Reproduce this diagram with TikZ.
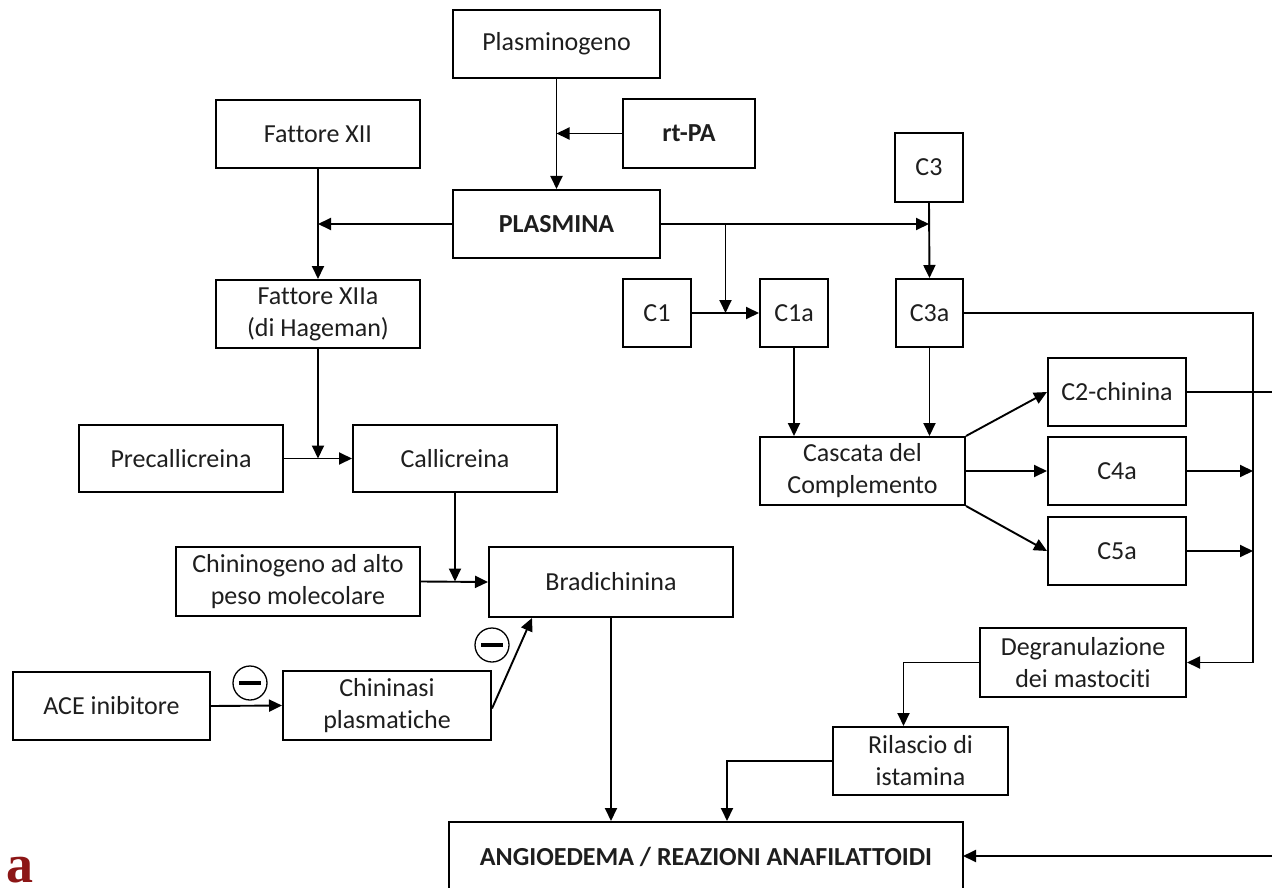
\documentclass[tikz,border=0pt]{standalone}
\usepackage{fontspec}
\setmainfont{Carlito}[Ligatures=NoCommon]
\newfontfamily\fragfont{Liberation Serif}
\usetikzlibrary{arrows.meta,calc}

\definecolor{inkgray}{RGB}{30,30,30}
\definecolor{fragred}{RGB}{140,22,22}

% box given by its left, top, right and bottom edges (in px, y downwards)
\newcommand\pbox[7][]{%
  \node[bx,#1,minimum width={#5-#3},minimum height={#6-#4}] (#2)
    at ({(#3+#5)/2},{(#4+#6)/2}) {#7};}

\begin{document}
\begin{tikzpicture}[x=1pt,y=-1pt,
  bx/.style={draw=black,line width=2pt,inner sep=0pt,align=center,
    text=inkgray,font=\fontsize{26}{32}\selectfont},
  heavy/.style={font=\bfseries\fontsize{26}{32}\selectfont},
  link/.style={draw=black,line width=1.9pt},
  arr/.style={link,-{Triangle[length=13pt,width=12pt]}},
  inhib/.style={circle,draw=black,line width=1.3pt,minimum size=34pt,inner sep=0pt}]

\useasboundingbox (0,0) rectangle (1272,888);
\clip (0,0) rectangle (1272,888);

% --- plasmin branch
\pbox{plg}{453}{10}{660}{78}{Plasminogeno}
\pbox[heavy]{rtpa}{623}{99}{755}{168}{rt-PA}
\pbox[heavy]{plas}{453}{190}{660}{258}{PLASMINA}

% --- contact system
\pbox{f12}{216}{100}{420}{168}{Fattore XII}
\pbox{f12a}{216}{280}{420}{348}{Fattore XIIa\\(di Hageman)}
\pbox{prec}{79}{425}{283}{492}{Precallicreina}
\pbox{call}{353}{425}{557}{492}{Callicreina}
\pbox{chin}{176}{547}{420}{616}{Chininogeno ad alto\\peso molecolare}
\pbox{brad}{489}{547}{733}{617}{Bradichinina}
\pbox{ace}{13}{672}{210}{740}{ACE inibitore}
\pbox{chns}{283}{671}{491}{740}{Chininasi\\plasmatiche}

% --- complement
\pbox{c3}{895}{133}{963}{202}{C3}
\pbox{c1}{623}{279}{691}{347}{C1}
\pbox{c1a}{760}{279}{828}{347}{C1a}
\pbox{c3a}{896}{279}{963}{347}{C3a}
\pbox{casc}{760}{437}{965}{505}{Cascata del\\Complemento}
\pbox{c2}{1048}{358}{1186}{426}{C2-chinina}
\pbox{c4a}{1048}{437}{1186}{505}{C4a}
\pbox{c5a}{1048}{517}{1186}{585}{C5a}
\pbox{degr}{980}{628}{1186}{697}{Degranulazione\\dei mastociti}
\pbox{ril}{833}{727}{1008}{795}{Rilascio di\\istamina}

% --- outcome
\pbox[heavy]{angio}{449}{822}{963}{900}{\raisebox{9pt}{ANGIOEDEMA / REAZIONI ANAFILATTOIDI}}

% inhibition marks
\node[inhib] (m1) at (250,683) {\rule[-2pt]{22pt}{4pt}};
\node[inhib] (m2) at (492,645) {\rule[-2pt]{22pt}{4pt}};

% helper coordinates
\coordinate (br) at ($(c1.east)!0.5!(c1a.west)$);
\coordinate (bus) at (1253,0);
\coordinate (far) at (1295,0);
\coordinate (angioin) at (963,856);

% plasmin
\draw[arr] (plg.south) -- (plas.north);
\draw[arr] (rtpa.west) -- (rtpa.west -| plg.south);
\draw[arr] (plas.west) -- (plas.west -| f12.south);
\draw[arr] (plas.east) -- (plas.east -| c3.south);
\draw[arr] (br |- plas.east) -- (br);

% contact system
\draw[arr] (f12.south) -- (f12a.north);
\draw[arr] (f12a.south) -- (f12a.south |- prec.east);
\draw[arr] (prec.east) -- (call.west);
\draw[arr] (call.south) -- (call.south |- chin.east);
\draw[arr] (chin.east) -- (brad.west);
\draw[arr] (ace.east) -- (chns.west);
\draw[arr] ([yshift=-3pt]chns.east) -- ([xshift=44pt]brad.south west);
\draw[arr] (brad.south) -- (brad.south |- angio.north);

% complement
\draw[arr] (c1.east) -- (c1a.west);
\draw[arr] (c3.south) -- (c3a.north);
\draw[arr] (c1a.south) -- (casc.north -| c1a.south);
\draw[arr] (c3a.south) -- (casc.north -| c3a.south);
\draw[arr] (casc.north east) -- (c2.west);
\draw[arr] (casc.east) -- (c4a.west);
\draw[arr] (casc.south east) -- (c5a.west);
\draw[arr] (c3a.east) -- (c3a.east -| bus) -- (degr.east -| bus) -- (degr.east);
\draw[arr] (c4a.east) -- (c4a.east -| bus);
\draw[arr] (c5a.east) -- (c5a.east -| bus);
\draw[arr] (c2.east) -- (c2.east -| far) -- (angioin -| far) -- (angioin);
\draw[arr] (degr.west) -| ([xshift=-17pt]ril.north);
\draw[arr] (ril.west) -| ([xshift=21pt]angio.north);

% caption fragment at the lower left
\node[anchor=base east,inner sep=0pt,text=fragred,
  font=\fragfont\bfseries\fontsize{54}{54}\selectfont] (frag) at (34,882) {a};

\end{tikzpicture}
\end{document}
